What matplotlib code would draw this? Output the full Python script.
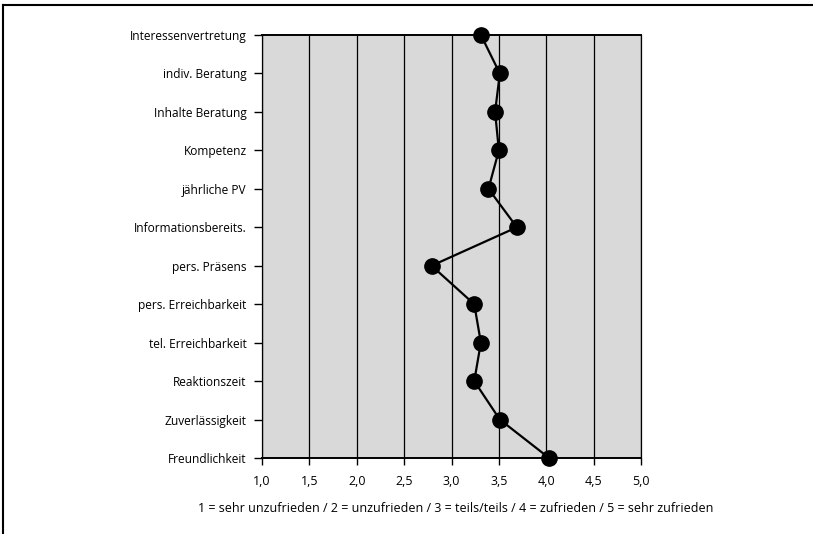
import matplotlib.pyplot as plt
from matplotlib.lines import Line2D

# Daten
kategorien = ["Interessenvertretung", "indiv. Beratung", "Inhalte Beratung", "Kompetenz",
              "jährliche PV", "Informationsbereits.", "pers. Präsens", "pers. Erreichbarkeit",
              "tel. Erreichbarkeit", "Reaktionszeit", "Zuverlässigkeit", "Freundlichkeit"]
werte = [3.31, 3.51, 3.46, 3.50, 3.39, 3.69, 2.79, 3.24, 3.31, 3.24, 3.51, 4.03]
x_ticks = [1.0, 1.5, 2.0, 2.5, 3.0, 3.5, 4.0, 4.5, 5.0]
x_labels = ["1,0", "1,5", "2,0", "2,5", "3,0", "3,5", "4,0", "4,5", "5,0"]
legende = "1 = sehr unzufrieden / 2 = unzufrieden / 3 = teils/teils / 4 = zufrieden / 5 = sehr zufrieden"

plt.rcParams['font.family'] = ['Open Sans', 'DejaVu Sans']

fig = plt.figure(figsize=(8.13, 5.34), dpi=100)
ax = fig.add_axes([262 / 813, 1 - 458 / 534, (641 - 262) / 813, (458 - 35) / 534])

pos = list(range(len(kategorien)))
ax.plot(werte, pos, color="black", lw=1.6, marker="o", markersize=11, clip_on=False, zorder=5)

ax.set_xlim(1, 5)
ax.set_ylim(len(kategorien) - 1, 0)
ax.set_facecolor("#d9d9d9")

ax.set_xticks(x_ticks)
ax.set_xticklabels(x_labels, fontsize=9)
ax.set_yticks(pos)
ax.set_yticklabels(kategorien, fontsize=8.6)
ax.tick_params(axis="x", length=5, width=1, pad=7)
ax.tick_params(axis="y", length=6, width=1, pad=5)
ax.xaxis.grid(True, color="black", lw=0.9)
ax.set_axisbelow(True)

for s in ["top", "bottom"]:
    ax.spines[s].set_linewidth(1.4)
for s in ["left", "right"]:
    ax.spines[s].set_linewidth(0.9)

fig.text(456 / 813, 1 - 509 / 534, legende, ha="center", va="center", fontsize=9)

# Rahmen
fig.add_artist(Line2D([3 / 813, 1], [1 - 5 / 534, 1 - 5 / 534], color="black", lw=1.5))
fig.add_artist(Line2D([3 / 813, 3 / 813], [0, 1 - 5 / 534], color="black", lw=1.5))

fig.savefig("out.png", dpi=100)
